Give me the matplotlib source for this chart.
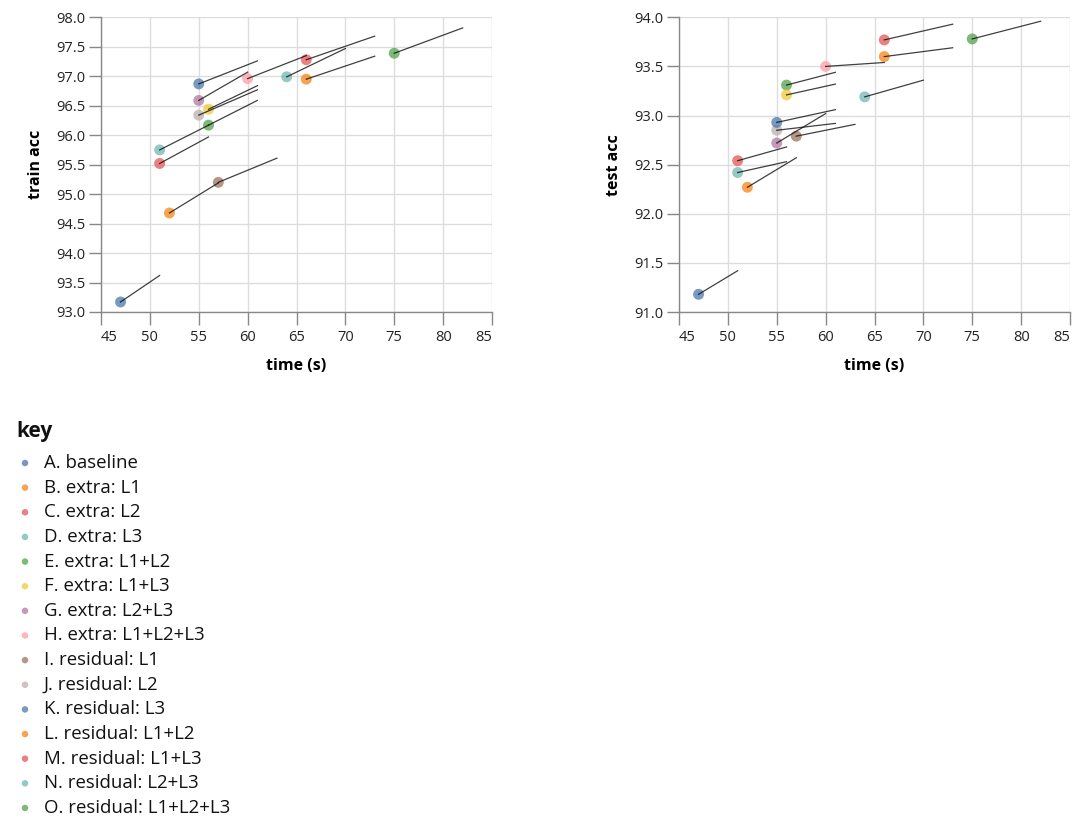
import numpy as np
import matplotlib
matplotlib.use("Agg")
import matplotlib.pyplot as plt

plt.rcParams['font.family'] = ['Open Sans', 'DejaVu Sans']

# --- data -----------------------------------------------------------------
names = ['A. baseline', 'B. extra: L1', 'C. extra: L2', 'D. extra: L3',
         'E. extra: L1+L2', 'F. extra: L1+L3', 'G. extra: L2+L3',
         'H. extra: L1+L2+L3', 'I. residual: L1', 'J. residual: L2',
         'K. residual: L3', 'L. residual: L1+L2', 'M. residual: L1+L3',
         'N. residual: L2+L3', 'O. residual: L1+L2+L3']

time_s = [47, 52, 51, 51, 56, 56, 55, 60, 57, 55, 55, 66, 66, 64, 75]
train_acc = [93.17, 94.68, 95.52, 95.75, 96.17, 96.44, 96.59, 96.96,
             95.20, 96.34, 96.87, 96.95, 97.28, 96.99, 97.39]
test_acc = [91.18, 92.27, 92.54, 92.42, 93.31, 93.21, 92.72, 93.50,
            92.79, 92.85, 92.93, 93.60, 93.77, 93.19, 93.78]

# end points of the leader lines
end_time = [51, 57, 56, 56, 61, 61, 60, 66, 63, 61, 61, 73, 73, 70, 82]
train_end = [93.62, 95.19, 95.97, 96.17, 96.59, 96.84, 97.07, 97.35,
             95.61, 96.77, 97.26, 97.34, 97.68, 97.47, 97.82]
test_end = [91.42, 92.57, 92.68, 92.53, 93.44, 93.32, 93.02, 93.54,
            92.91, 92.92, 93.06, 93.69, 93.93, 93.36, 93.96]

tableau10 = ['#4c78a8', '#f58518', '#e45756', '#72b7b2', '#54a24b',
             '#eeca3b', '#b279a2', '#ff9da6', '#9d755d', '#bab0ac']
colors = [tableau10[i % 10] for i in range(len(names))]

W, H = 1080, 824
fig = plt.figure(figsize=(W / 100, H / 100), dpi=100)


def px_axes(x0, y0, x1, y1):
    return fig.add_axes([x0 / W, 1 - y1 / H, (x1 - x0) / W, (y1 - y0) / H])


def style_axes(ax, ylim, yticks, ylabel):
    ax.set_xlim(45, 85)
    ax.set_ylim(*ylim)
    ax.set_xticks(np.arange(45, 86, 5))
    ax.set_yticks(yticks)
    ax.set_yticklabels([f'{v:.1f}' for v in yticks])
    ax.grid(True, color='#dddddd', lw=1)
    ax.set_axisbelow(True)
    for s in ['top', 'right']:
        ax.spines[s].set_visible(False)
    for s in ['left', 'bottom']:
        ax.spines[s].set_color('#888888')
        ax.spines[s].set_linewidth(1)
    ax.tick_params(length=9, width=1, color='#888888', labelsize=10.5,
                   labelcolor='#222222', pad=2)
    ax.tick_params(axis='x', pad=4)
    labels = ax.get_xticklabels()
    labels[0].set_horizontalalignment('left')
    labels[-1].set_horizontalalignment('right')
    ax.set_xlabel('time (s)', fontsize=11.5, fontweight='bold', labelpad=9)
    ax.set_ylabel(ylabel, fontsize=11.5, fontweight='bold', labelpad=9)


def draw(ax, yvals, yend):
    ax.scatter(time_s, yvals, s=62, c=colors, alpha=0.75, linewidths=0,
               zorder=3)
    for t, y, te, ye in zip(time_s, yvals, end_time, yend):
        ax.plot([t, te], [y, ye], color='black', lw=0.9, alpha=0.75,
                zorder=4)


ax1 = px_axes(101, 17.3, 492, 312)
style_axes(ax1, (93, 98), np.arange(93, 98.01, 0.5), 'train acc')
draw(ax1, train_acc, train_end)

ax2 = px_axes(679, 17.3, 1070, 312)
style_axes(ax2, (91, 94), np.arange(91, 94.01, 0.5), 'test acc')
draw(ax2, test_acc, test_end)

# --- legend ---------------------------------------------------------------
lg = fig.add_axes([0, 0, 1, 1])
lg.set_xlim(0, W)
lg.set_ylim(H, 0)
lg.axis('off')
lg.text(16, 431, 'key', fontsize=15, fontweight='bold', va='center',
        ha='left', color='#111111')
ys = 463 + 24.64 * np.arange(len(names))
lg.scatter(np.full(len(names), 25), ys, s=22, c=colors, alpha=0.75,
           linewidths=0)
for y, name in zip(ys, names):
    lg.text(44, y, name, fontsize=13.4, va='center', ha='left',
            color='#111111')

fig.savefig('out.png', dpi=100)
